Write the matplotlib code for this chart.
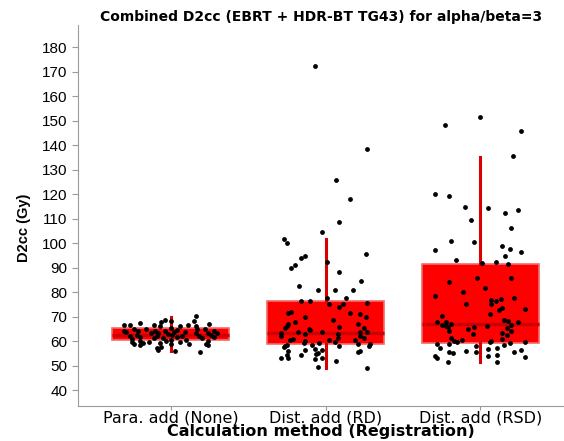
import numpy as np
import matplotlib
matplotlib.use("Agg")
import matplotlib.pyplot as plt

plt.rcParams['font.family'] = ['Liberation Sans', 'DejaVu Sans']

methods = ["Para. add (None)", "Dist. add (RD)", "Dist. add (RSD)"]

# box stats: whisker low, q1, median, q3, whisker high
whislo = [55.9, 49.0, 51.6]
q1s = [60.4, 58.8, 59.2]
medians = [62.4, 63.4, 66.9]
q3s = [65.3, 76.4, 91.4]
whishi = [69.8, 101.6, 135.2]

# jittered points: (offset from group centre, D2cc value)
para_pts = [
    (0.16, 70.2), (0.15, 68.2), (-0.04, 68.6), (-0.06, 67.8), (0.00, 68.2),
    (-0.20, 67.3), (-0.30, 66.5), (-0.26, 66.5), (-0.11, 66.5), (-0.07, 66.1),
    (0.06, 66.1), (0.11, 66.5), (0.16, 66.1), (0.25, 66.9), (0.00, 65.3),
    (-0.16, 64.9), (-0.24, 64.9), (0.04, 64.5), (0.17, 64.9), (0.22, 64.9),
    (-0.10, 64.1), (-0.21, 64.1), (-0.04, 64.1), (-0.29, 63.7), (0.02, 63.7),
    (0.09, 63.7), (0.28, 64.1), (-0.13, 63.3), (-0.08, 63.3), (-0.02, 62.9),
    (0.16, 63.3), (0.24, 63.3), (0.30, 63.3), (-0.22, 62.4), (-0.26, 62.0),
    (-0.09, 62.0), (0.01, 62.4), (0.07, 62.0), (0.18, 62.0), (0.26, 62.4),
    (-0.20, 61.6), (-0.11, 61.2), (-0.05, 61.2), (0.04, 61.6), (0.20, 61.2),
    (0.28, 61.6), (-0.25, 60.8), (0.00, 60.4), (-0.03, 60.0), (0.10, 60.4),
    (-0.20, 60.0), (-0.25, 59.6), (0.24, 60.0), (0.06, 59.6), (-0.18, 59.2),
    (-0.24, 58.8), (0.12, 58.8), (0.23, 58.8), (-0.20, 58.4), (0.24, 58.4),
    (-0.06, 57.6), (-0.09, 57.1), (-0.08, 56.3), (0.03, 55.9), (0.19, 55.5),
    (-0.07, 59.2), (0.00, 58.8), (-0.14, 59.6), (-0.30, 64.1),
]

rd_pts = [
    (-0.07, 172.2), (0.27, 138.4), (0.07, 125.7), (0.16, 118.0), (0.09, 108.6),
    (-0.02, 104.5), (-0.27, 101.6), (-0.25, 100.0), (0.26, 95.5), (-0.13, 94.7),
    (-0.16, 93.9), (0.01, 92.2), (-0.20, 91.0), (-0.22, 89.8), (0.09, 88.2),
    (0.23, 84.5), (-0.17, 82.4), (-0.05, 80.8), (0.06, 80.8), (0.18, 80.8),
    (0.01, 77.6), (0.13, 77.6), (-0.16, 76.3), (-0.10, 76.3), (0.02, 75.1),
    (0.11, 75.1), (0.27, 75.5), (0.09, 73.9), (-0.22, 71.8), (-0.24, 71.4),
    (0.16, 71.4), (0.22, 71.0), (-0.13, 69.8), (0.26, 69.8), (0.05, 68.6),
    (-0.20, 67.8), (-0.24, 66.9), (0.21, 66.9), (-0.25, 66.1), (-0.26, 65.3),
    (0.09, 65.7), (0.25, 65.3), (-0.11, 64.9), (-0.10, 64.5), (-0.18, 63.7),
    (-0.29, 63.3), (-0.02, 63.7), (0.08, 62.9), (0.22, 63.7), (0.27, 63.7),
    (-0.29, 62.0), (-0.13, 62.9), (0.22, 62.0), (0.08, 61.2), (-0.21, 60.8),
    (-0.23, 60.4), (0.02, 60.4), (0.19, 60.4), (0.25, 61.2), (-0.13, 60.0),
    (-0.14, 59.2), (-0.04, 59.2), (0.06, 59.6), (0.21, 58.8), (0.29, 58.8),
    (-0.09, 58.4), (-0.25, 58.4), (-0.26, 58.0), (0.09, 58.0), (0.28, 58.0),
    (-0.27, 57.6), (-0.07, 56.7), (-0.13, 56.3), (-0.24, 55.9), (0.22, 55.9),
    (-0.02, 56.3), (-0.05, 55.1), (0.21, 55.5), (-0.06, 54.7), (-0.25, 54.3),
    (-0.16, 54.3), (-0.29, 53.0), (-0.24, 53.0), (-0.07, 52.6), (-0.02, 53.0),
    (0.07, 51.8), (-0.05, 49.4), (0.27, 49.0),
]

rsd_pts = [
    (0.00, 151.4), (-0.23, 148.2), (0.26, 145.7), (0.21, 135.5), (-0.29, 120.0),
    (-0.20, 119.2), (-0.10, 114.7), (0.05, 114.3), (0.16, 112.2), (0.24, 113.5),
    (-0.06, 109.4), (0.20, 106.1), (-0.19, 100.8), (-0.04, 100.4), (0.14, 98.8),
    (0.19, 97.6), (-0.29, 97.1), (0.26, 96.3), (0.16, 94.7), (-0.16, 93.1),
    (0.01, 91.8), (0.10, 92.2), (0.18, 91.4), (0.20, 85.7), (-0.20, 84.1),
    (-0.02, 85.7), (0.03, 81.6), (-0.11, 80.0), (-0.29, 78.4), (0.22, 77.6),
    (0.07, 76.7), (0.10, 76.3), (0.13, 77.1), (-0.09, 75.1), (0.07, 75.1),
    (0.29, 73.1), (0.14, 73.5), (0.12, 72.7), (0.06, 71.0), (-0.25, 70.2),
    (-0.28, 67.8), (-0.22, 67.8), (0.15, 68.6), (0.18, 68.2), (0.24, 67.8),
    (-0.25, 66.5), (-0.19, 66.9), (-0.22, 66.1), (-0.21, 65.7), (0.20, 66.5),
    (0.17, 65.3), (0.04, 66.1), (-0.04, 65.7), (-0.08, 64.9), (-0.20, 64.1),
    (0.20, 64.1), (-0.05, 62.9), (0.14, 63.3), (0.17, 62.4), (-0.19, 61.2),
    (0.14, 60.8), (-0.17, 60.0), (-0.15, 59.6), (-0.12, 60.4), (0.07, 60.0),
    (0.06, 59.6), (0.19, 59.2), (0.29, 59.6), (-0.28, 58.8), (-0.20, 58.8),
    (0.15, 58.4), (-0.03, 58.0), (-0.26, 57.1), (0.05, 56.7), (0.11, 57.1),
    (-0.20, 55.5), (-0.18, 55.1), (-0.09, 55.9), (-0.03, 55.5), (0.22, 55.5),
    (0.26, 56.3), (0.11, 54.3), (0.05, 53.9), (-0.29, 53.9), (-0.28, 53.0),
    (0.29, 53.5), (-0.21, 51.4), (0.11, 51.4),
]
groups = [para_pts, rd_pts, rsd_pts]

fig = plt.figure(figsize=(5.64, 4.41), dpi=100)
ax = fig.add_axes([0.138, 0.079, 0.862, 0.864])

stats = []
for i in range(3):
    stats.append(dict(whislo=whislo[i], q1=q1s[i], med=medians[i],
                      q3=q3s[i], whishi=whishi[i], fliers=[]))

ax.bxp(stats, positions=[0, 1, 2], widths=0.755, patch_artist=True,
       showcaps=False,
       boxprops=dict(facecolor='#ff0000', edgecolor='#f26a6a', linewidth=1.2),
       medianprops=dict(color='#cc0000', linewidth=2.5),
       whiskerprops=dict(color='#d80000', linewidth=2.2),
       zorder=2)

for i, pts in enumerate(groups):
    xs = [i + p[0] for p in pts]
    ys = [p[1] for p in pts]
    ax.scatter(xs, ys, s=12, color='black', zorder=3, linewidths=0)

ax.set_xlim(-0.6, 2.54)
ax.set_ylim(33.5, 189)
ax.set_yticks(np.arange(40, 181, 10))
ax.set_xticks([0, 1, 2])
ax.set_xticklabels(methods, family='DejaVu Sans', fontsize=11.5)

for s in ['top', 'right']:
    ax.spines[s].set_visible(False)
for s in ['left', 'bottom']:
    ax.spines[s].set_color('#9a9a9a')
ax.tick_params(axis='both', colors='#9a9a9a', labelcolor='black',
               length=4, width=0.8)
ax.tick_params(axis='y', labelsize=11)
ax.tick_params(axis='x', pad=0, length=3)

ax.set_title("Combined D2cc (EBRT + HDR-BT TG43) for alpha/beta=3",
             fontsize=10, fontweight='bold', family='DejaVu Sans', pad=3)
ax.set_xlabel("Calculation method (Registration)", fontsize=11.5,
              fontweight='bold', family='DejaVu Sans', labelpad=-1)
ax.set_ylabel("D2cc (Gy)", fontsize=10.5, fontweight='bold')
ax.yaxis.set_label_coords(-0.097, 0.467)

fig.savefig("out.png", dpi=100)
